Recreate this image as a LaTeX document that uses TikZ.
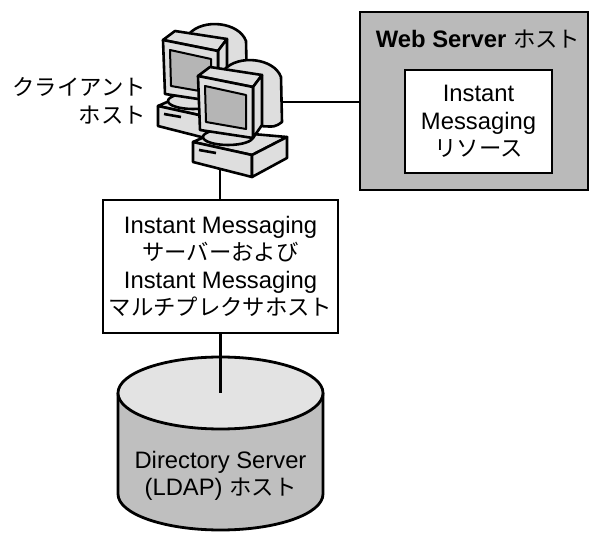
\documentclass[tikz,border=0pt]{standalone}
\usepackage{fontspec}
\setmainfont{Liberation Sans}
\newfontfamily\jp[Scale=0.94]{Noto Sans CJK JP}
\usetikzlibrary{positioning}

\definecolor{pclight}{gray}{0.87}
\definecolor{pcscreen}{gray}{0.71}
\definecolor{hostgray}{gray}{0.73}
\definecolor{disktop}{gray}{0.89}
\definecolor{diskbody}{gray}{0.75}

\tikzset{
  label text/.style={font=\fontsize{23.8pt}{27.5pt}\selectfont, align=center, inner sep=0pt},
  hostbox/.style={draw, line width=2.4pt, label text},
  link/.style={line width=2.4pt},
  pcpart/.style={draw, line width=2.6pt, line join=round, fill=pclight},
}

% one desktop computer, origin at the top left corner of the screen face
\newcommand{\pcunit}[2]{%
  \begin{scope}[shift={#1}]
    \draw[pcpart] (-5,66) -- (20,55) -- (89,61) -- (54,79) -- cycle;
    \draw[pcpart] (-5,66) -- (54,79) -- (54,101) -- (-5,86) -- cycle;
    \draw[pcpart] (54,79) -- (89,61) -- (89,82) -- (54,101) -- cycle;
    \draw[line width=2.6pt] (1,74) -- (18,77);
    \draw[pcpart] (30,61) ellipse [x radius=25, y radius=8];
    \draw[pcpart] (26,-6) .. controls (40,-22) and (76,-18) .. (83,1)
      -- (84,46) .. controls (77,51) .. (62,50) -- cycle;
    \draw[pcpart] (0,0) -- (12,-9) -- (64,-1) -- (55,11) -- cycle;
    \draw[pcpart] (55,11) -- (64,-1) -- (64,49) -- (55,62) -- cycle;
    \draw[pcpart] (0,0) -- (55,11) -- (55,62) -- (2,54) -- cycle;
    \draw[pcpart, fill=pcscreen, line width=2pt] (7,10) -- (48,19) -- (48,53) -- (8,46) -- cycle;
    \coordinate (#2down) at (22,93);
    \coordinate (#2side) at (83,26);
  \end{scope}}

\begin{document}
\begin{tikzpicture}[x=1pt, y=-1pt]
  \useasboundingbox (0,0) rectangle (589,534);

  % web server host with the resource box inside
  \node[hostbox, fill=hostgray, minimum width=228, minimum height=178] (webhost) at (474,101) {};
  \node[label text, font=\fontsize{23.8pt}{27.5pt}\selectfont\bfseries] (webtitle) at (478,39)
    {Web Server {\mdseries\jp ホスト}};
  \node[hostbox, fill=white, minimum width=147, minimum height=103] (imres) at (478.5,121.5)
    {Instant\\Messaging\\{\jp リソース}};

  % client machines
  \pcunit{(163,40)}{backpc}
  \pcunit{(198,76)}{frontpc}
  \node[label text, anchor=east, align=right] (client) at (146,101)
    {{\jp クライアント}\\{\jp ホスト}};

  % server / multiplexor host
  \node[hostbox, fill=white, minimum width=235, minimum height=133] (imbox) at (220.5,266.5)
    {Instant Messaging\\{\jp サーバーおよび}\\Instant Messaging\\{\jp マルチプレクサホスト}};

  % directory server disk
  \draw[line width=2.8pt, fill=diskbody] (118,393) -- (118,494)
    arc [start angle=180, end angle=0, x radius=102.5, y radius=36] -- (323,393);
  \draw[line width=2.8pt, fill=disktop] (220.5,393) ellipse [x radius=102.5, y radius=36];
  \coordinate (ldaptop) at (220.5,393);
  \node[label text] (ldap) at (220.5,476) {Directory Server\\(LDAP) {\jp ホスト}};

  % links
  \draw[link] (frontpcside) -- (frontpcside -| webhost.west);
  \draw[link] (frontpcdown) -- (frontpcdown |- imbox.north);
  \draw[link] (imbox.south) -- (ldaptop);
\end{tikzpicture}
\end{document}
